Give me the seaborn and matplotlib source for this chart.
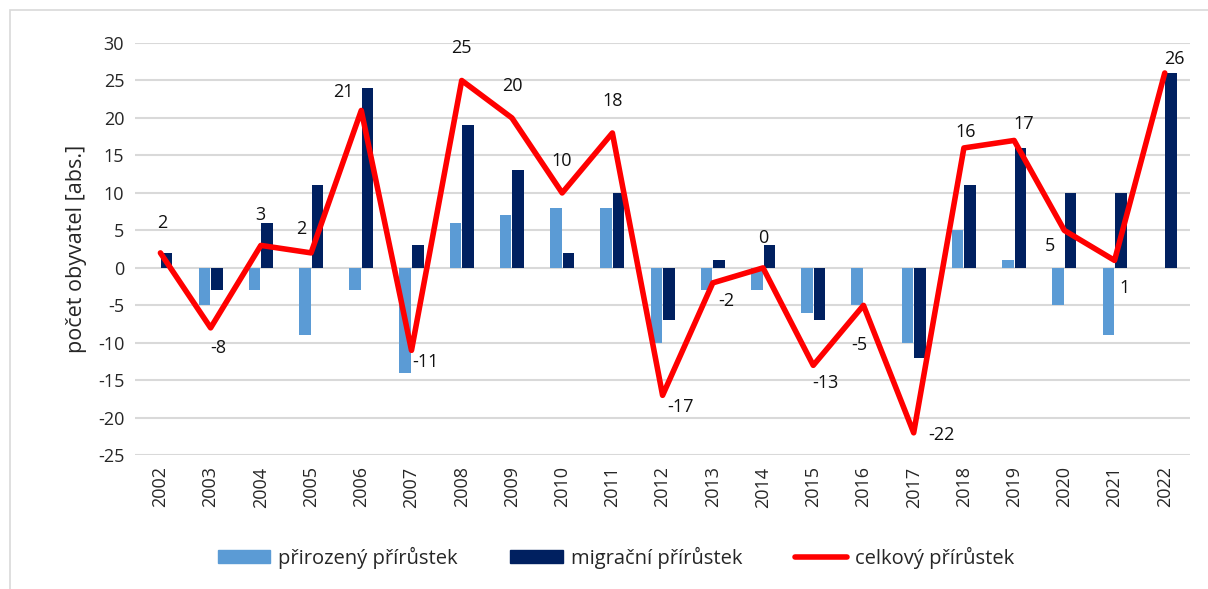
import pandas as pd
import seaborn as sns
import matplotlib.pyplot as plt
import numpy as np
from matplotlib.patches import Rectangle
from matplotlib.lines import Line2D
from matplotlib.patches import Patch

# Data
years = [str(y) for y in range(2002, 2023)]
natural = [0, -5, -3, -9, -3, -14, 6, 7, 8, 8, -10, -3, -3, -6, -5, -10, 5, 1, -5, -9, 0]
migration = [2, -3, 6, 11, 24, 3, 19, 13, 2, 10, -7, 1, 3, -7, 0, -12, 11, 16, 10, 10, 26]
total = [2, -8, 3, 2, 21, -11, 25, 20, 10, 18, -17, -2, 0, -13, -5, -22, 16, 17, 5, 1, 26]

series_names = ['přirozený přírůstek', 'migrační přírůstek', 'celkový přírůstek']

# label offsets for the total line (pixels)
label_offsets = [(2, 30), (8, -20), (0, 30), (-10, 24), (-18, 18), (14, -12), (0, 32), (0, 32),
                 (0, 32), (0, 32), (18, -12), (14, -18), (0, 30), (12, -18), (-4, -40),
                 (28, -2), (2, 16), (10, 16), (-14, -16), (10, -28), (10, 14)]

df = pd.DataFrame({'rok': years * 2,
                   'hodnota': natural + migration,
                   'typ': [series_names[0]] * len(years) + [series_names[1]] * len(years)})

light = '#5B9BD5'
dark = '#002060'
red = '#FF0000'

sns.set_style('white')
plt.rcParams['font.family'] = ['Open Sans', 'DejaVu Sans']
plt.rcParams['axes.unicode_minus'] = False

fig = plt.figure(figsize=(12.08, 5.89), dpi=100)
ax = fig.add_axes([0.112, 0.227, 0.873, 0.700])

sns.barplot(data=df, x='rok', y='hodnota', hue='typ', hue_order=series_names[:2],
            palette=[light, dark], width=0.5, gap=0.08, saturation=1, linewidth=0,
            errorbar=None, legend=False, ax=ax, zorder=2)

pos = np.arange(len(years))
sns.lineplot(x=pos, y=total, color=red, linewidth=4, ax=ax, zorder=3)

for i, v in enumerate(total):
    dx, dy = label_offsets[i]
    ax.annotate(str(v), (i, v), xytext=(dx, dy), textcoords='offset pixels',
                ha='center', va='center', fontsize=13, color='#111111')

ax.set_ylim(-25, 30)
ax.set_yticks(range(-25, 31, 5))
ax.set_xlim(-0.5, len(years) - 0.5)
ax.yaxis.grid(True, color='#D9D9D9', linewidth=1.5, zorder=0)
ax.set_axisbelow(True)
for s in ax.spines.values():
    s.set_visible(False)
ax.tick_params(axis='x', rotation=90, labelsize=13, length=0, pad=8)
ax.tick_params(axis='y', labelsize=13, length=0, pad=8)
ax.set_xlabel('')
ax.set_ylabel('počet obyvatel [abs.]', fontsize=15.5, labelpad=8)

handles = [Patch(color=light), Patch(color=dark), Line2D([], [], color=red, linewidth=4)]
fig.legend(handles, series_names, loc='center', bbox_to_anchor=(0.51, 0.053), ncol=3,
           frameon=False, fontsize=14.5, handlelength=2.6, handleheight=0.6,
           columnspacing=2.6, handletextpad=0.4)

# outer chart border
fig.patches.append(Rectangle((10 / 1208, -0.1), 1.2, 1.1 - 10 / 589, transform=fig.transFigure,
                             fill=False, edgecolor='#D9D9D9', linewidth=1.2))

fig.savefig('out.png', dpi=100)
